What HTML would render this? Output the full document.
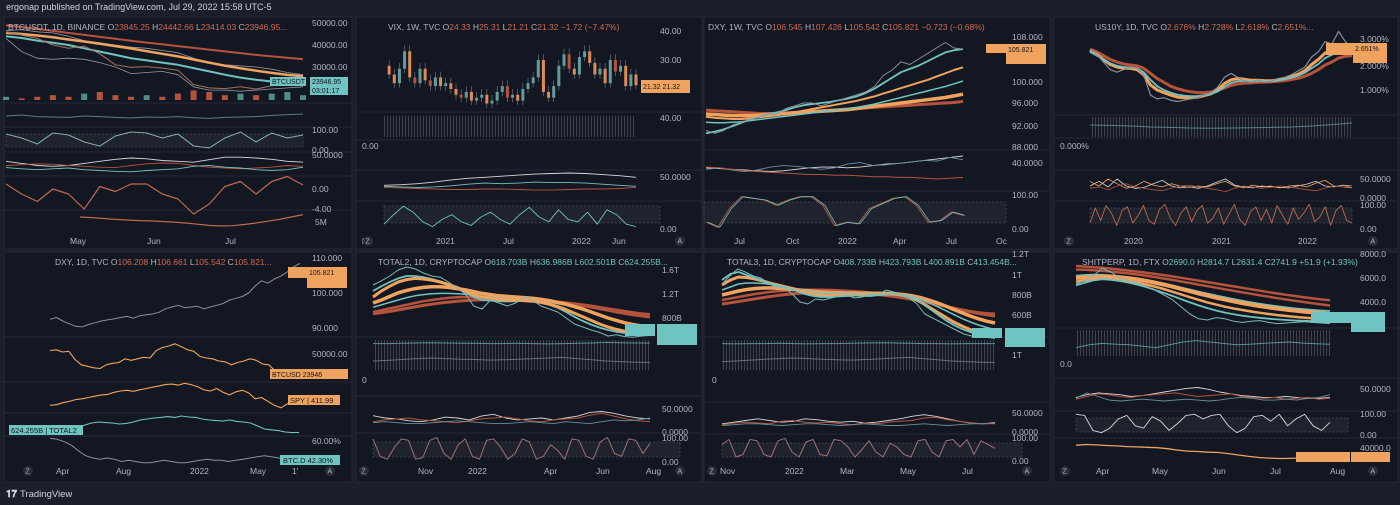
<!DOCTYPE html>
<html><head><meta charset="utf-8">
<style>
html,body{margin:0;padding:0;background:#1b1f2a;width:1400px;height:505px;overflow:hidden;font-family:"Liberation Sans",sans-serif}
svg{position:absolute;left:0;top:0}
text{font-family:"Liberation Sans",sans-serif;font-size:8.5px;fill:#b2b5be}
.t{font-size:8.5px;fill:#b2b5be}
.r{fill:#d0694f}.g{fill:#6fc3c0}
</style></head>
<body>
<svg id="s" width="1400" height="505">
<defs>
<pattern id="stripes" width="3" height="4" patternUnits="userSpaceOnUse"><rect width="1" height="4" fill="#4a4e59"/></pattern>
</defs>
<text x="6" y="10" style="font-size:9px;fill:#d1d4dc">ergonap published on TradingView.com, Jul 29, 2022 15:58 UTC-5</text>
<g>
<rect x="4" y="17" width="348" height="232" fill="#131722" stroke="#262a35"/>
<rect x="356" y="17" width="346" height="232" fill="#131722" stroke="#262a35"/>
<rect x="704" y="17" width="346" height="232" fill="#131722" stroke="#262a35"/>
<rect x="1054" y="17" width="344" height="232" fill="#131722" stroke="#262a35"/>
<rect x="4" y="252" width="348" height="230" fill="#131722" stroke="#262a35"/>
<rect x="356" y="252" width="346" height="230" fill="#131722" stroke="#262a35"/>
<rect x="704" y="252" width="346" height="230" fill="#131722" stroke="#262a35"/>
<rect x="1054" y="252" width="344" height="230" fill="#131722" stroke="#262a35"/>
</g>
<g id="seps" stroke="#262a35" stroke-width="1">
<line x1="4" x2="352" y1="103" y2="103"/><line x1="4" x2="352" y1="127" y2="127"/><line x1="4" x2="352" y1="152" y2="152"/><line x1="4" x2="352" y1="176" y2="176"/><line x1="4" x2="352" y1="210" y2="210"/>
<line x1="356" x2="702" y1="112" y2="112"/><line x1="356" x2="702" y1="140" y2="140"/><line x1="356" x2="702" y1="170" y2="170"/><line x1="356" x2="702" y1="201" y2="201"/>
<line x1="704" x2="1050" y1="150" y2="150"/><line x1="704" x2="1050" y1="191" y2="191"/>
<line x1="1054" x2="1398" y1="115" y2="115"/><line x1="1054" x2="1398" y1="138" y2="138"/><line x1="1054" x2="1398" y1="170" y2="170"/><line x1="1054" x2="1398" y1="201" y2="201"/>
<line x1="4" x2="352" y1="337" y2="337"/><line x1="4" x2="352" y1="382" y2="382"/><line x1="4" x2="352" y1="413" y2="413"/><line x1="4" x2="352" y1="436" y2="436"/>
<line x1="356" x2="702" y1="337" y2="337"/><line x1="356" x2="702" y1="396" y2="396"/><line x1="356" x2="702" y1="433" y2="433"/>
<line x1="704" x2="1050" y1="337" y2="337"/><line x1="704" x2="1050" y1="402" y2="402"/><line x1="704" x2="1050" y1="434" y2="434"/>
<line x1="1054" x2="1398" y1="328" y2="328"/><line x1="1054" x2="1398" y1="378" y2="378"/><line x1="1054" x2="1398" y1="411" y2="411"/><line x1="1054" x2="1398" y1="438" y2="438"/>
</g>
<g fill="#2a2e39" fill-opacity="0.55" stroke="#555a66" stroke-dasharray="2,2" stroke-width="0.6">
<rect x="6" y="134" width="297" height="13"/><rect x="384" y="206" width="276" height="17"/><rect x="704" y="202" width="302" height="21"/><rect x="1090" y="208" width="262" height="15"/>
<rect x="373" y="442" width="307" height="15"/><rect x="722" y="443" width="300" height="14"/><rect x="1076" y="418" width="272" height="14"/>
</g>
<g fill="url(#stripes)" opacity="0.8">
<rect x="384" y="116" width="252" height="21"/><rect x="1090" y="117" width="262" height="20"/><rect x="373" y="340" width="277" height="30"/><rect x="722" y="340" width="273" height="30"/><rect x="1076" y="330" width="254" height="26"/>
</g>
<g id="marks"></g>

<!-- titles -->
<text x="8" y="30">BTCUSDT, 1D, BINANCE  O<tspan class="r">23845.25</tspan> H<tspan class="r">24442.66</tspan> L<tspan class="r">23414.03</tspan> C<tspan class="r">23946.95...</tspan></text>
<text x="388" y="30">VIX, 1W, TVC  O<tspan class="r">24.33</tspan> H<tspan class="r">25.31</tspan> L<tspan class="r">21.21</tspan> C<tspan class="r">21.32</tspan> <tspan class="r">−1.72 (−7.47%)</tspan></text>
<text x="708" y="30">DXY, 1W, TVC  O<tspan class="r">106.545</tspan> H<tspan class="r">107.426</tspan> L<tspan class="r">105.542</tspan> C<tspan class="r">105.821</tspan> <tspan class="r">−0.723 (−0.68%)</tspan></text>
<text x="1095" y="30">US10Y, 1D, TVC  O<tspan class="r">2.676%</tspan> H<tspan class="r">2.728%</tspan> L<tspan class="r">2.618%</tspan> C<tspan class="r">2.651%...</tspan></text>
<text x="55" y="265">DXY, 1D, TVC  O<tspan class="r">106.208</tspan> H<tspan class="r">106.661</tspan> L<tspan class="r">105.542</tspan> C<tspan class="r">105.821...</tspan></text>
<text x="378" y="265">TOTAL2, 1D, CRYPTOCAP  O<tspan class="g">618.703B</tspan> H<tspan class="g">636.986B</tspan> L<tspan class="g">602.501B</tspan> C<tspan class="g">624.255B...</tspan></text>
<text x="727" y="265">TOTAL3, 1D, CRYPTOCAP  O<tspan class="g">408.733B</tspan> H<tspan class="g">423.793B</tspan> L<tspan class="g">400.891B</tspan> C<tspan class="g">413.454B...</tspan></text>
<text x="1082" y="265">SHITPERP, 1D, FTX  O<tspan class="g">2690.0</tspan> H<tspan class="g">2814.7</tspan> L<tspan class="g">2631.4</tspan> C<tspan class="g">2741.9</tspan> <tspan class="g">+51.9 (+1.93%)</tspan></text>

<g>
<text x="312" y="26">50000.00</text><text x="312" y="48">40000.00</text><text x="312" y="70">30000.00</text><text x="312" y="133">100.00</text><text x="312" y="153">0.00</text><text x="312" y="158">50.0000</text><text x="312" y="192">0.00</text><text x="312" y="212">-4.00</text><text x="315" y="225">5M</text>
<text x="660" y="34">40.00</text><text x="660" y="63">30.00</text><text x="660" y="121">40.00</text><text x="362" y="149">0.00</text><text x="660" y="180">50.0000</text><text x="660" y="232">0.00</text>
<text x="1012" y="40">108.000</text><text x="1012" y="85">100.000</text><text x="1012" y="106">96.000</text><text x="1012" y="129">92.000</text><text x="1012" y="150">88.000</text><text x="1012" y="166">40.0000</text><text x="1012" y="198">100.00</text><text x="1012" y="232">0.00</text>
<text x="1360" y="42">3.000%</text><text x="1360" y="69">2.000%</text><text x="1360" y="93">1.000%</text><text x="1060" y="149">0.000%</text><text x="1360" y="182">50.0000</text><text x="1360" y="201">0.0000</text><text x="1360" y="208">100.00</text><text x="1360" y="232">0.00</text>
<text x="312" y="261">110.000</text><text x="312" y="296">100.000</text><text x="312" y="331">90.000</text><text x="312" y="357">50000.00</text><text x="312" y="444">60.00%</text>
<text x="662" y="273">1.6T</text><text x="662" y="297">1.2T</text><text x="662" y="321">800B</text><text x="362" y="383">0</text><text x="662" y="412">50.0000</text><text x="662" y="435">0.0000</text><text x="662" y="441">100.00</text><text x="662" y="465">0.00</text>
<text x="1012" y="257">1.2T</text><text x="1012" y="278">1T</text><text x="1012" y="298">800B</text><text x="1012" y="318">600B</text><text x="1012" y="358">1T</text><text x="712" y="383">0</text><text x="1012" y="416">50.0000</text><text x="1012" y="435">0.0000</text><text x="1012" y="441">100.00</text><text x="1012" y="464">0.00</text>
<text x="1360" y="257">8000.0</text><text x="1360" y="281">6000.0</text><text x="1360" y="305">4000.0</text><text x="1060" y="367">0.0</text><text x="1360" y="392">50.0000</text><text x="1360" y="417">100.00</text><text x="1360" y="438">0.00</text><text x="1360" y="451">40000.0</text>
</g>
<g>
<text x="70" y="244">May</text><text x="147" y="244">Jun</text><text x="225" y="244">Jul</text>
<text x="362" y="244">l</text><text x="436" y="244">2021</text><text x="503" y="244">Jul</text><text x="572" y="244">2022</text><text x="612" y="244">Jun</text>
<text x="734" y="244">Jul</text><text x="786" y="244">Oct</text><text x="838" y="244">2022</text><text x="893" y="244">Apr</text><text x="946" y="244">Jul</text><text x="996" y="244">Oc</text>
<text x="1124" y="244">2020</text><text x="1212" y="244">2021</text><text x="1298" y="244">2022</text>
<text x="56" y="474">Apr</text><text x="116" y="474">Aug</text><text x="190" y="474">2022</text><text x="250" y="474">May</text><text x="292" y="474">1'</text>
<text x="362" y="474">p</text><text x="418" y="474">Nov</text><text x="468" y="474">2022</text><text x="544" y="474">Apr</text><text x="596" y="474">Jun</text><text x="646" y="474">Aug</text>
<text x="720" y="474">Nov</text><text x="785" y="474">2022</text><text x="840" y="474">Mar</text><text x="900" y="474">May</text><text x="962" y="474">Jul</text>
<text x="1096" y="474">Apr</text><text x="1152" y="474">May</text><text x="1212" y="474">Jun</text><text x="1270" y="474">Jul</text><text x="1330" y="474">Aug</text>
</g>
<g fill="#2a2e39">
<circle cx="368" cy="241" r="5"/><circle cx="680" cy="241" r="5"/><circle cx="1069" cy="241" r="5"/><circle cx="1373" cy="241" r="5"/><circle cx="28" cy="471" r="5"/><circle cx="330" cy="471" r="5"/><circle cx="364" cy="471" r="5"/><circle cx="680" cy="471" r="5"/><circle cx="712" cy="471" r="5"/><circle cx="1027" cy="471" r="5"/><circle cx="1065" cy="471" r="5"/><circle cx="1373" cy="471" r="5"/>
</g>
<g style="font-size:7px">
<text x="365.5" y="243.5" style="font-size:7px">Z</text><text x="677.5" y="243.5" style="font-size:7px">A</text><text x="1066.5" y="243.5" style="font-size:7px">Z</text><text x="1370.5" y="243.5" style="font-size:7px">A</text><text x="25.5" y="473.5" style="font-size:7px">Z</text><text x="327.5" y="473.5" style="font-size:7px">A</text><text x="361.5" y="473.5" style="font-size:7px">Z</text><text x="677.5" y="473.5" style="font-size:7px">A</text><text x="709.5" y="473.5" style="font-size:7px">Z</text><text x="1024.5" y="473.5" style="font-size:7px">A</text><text x="1062.5" y="473.5" style="font-size:7px">Z</text><text x="1370.5" y="473.5" style="font-size:7px">A</text>
</g>
<g id="boxes">
<rect x="270" y="77" width="36" height="9" fill="#6fc3c0"/><text x="272" y="84" style="fill:#131722;font-size:7px">BTCUSDT</text>
<rect x="310" y="77" width="38" height="18" fill="#6fc3c0"/><text x="312" y="84" style="fill:#131722;font-size:7px">23946.95</text><text x="312" y="93" style="fill:#131722;font-size:7px">03:01:17</text>
<rect x="641" y="80" width="49" height="13" fill="#f0a35e"/><text x="643" y="89" style="fill:#131722;font-size:7px">21.32 21.32</text>
<rect x="986" y="44" width="31" height="9" fill="#f0a35e"/><rect x="1006" y="44" width="40" height="20" fill="#f0a35e"/><text x="1008" y="52" style="fill:#131722;font-size:7px">105.821</text>
<rect x="1326" y="43" width="28" height="12" fill="#f0a35e"/><rect x="1353" y="43" width="34" height="20" fill="#f0a35e"/><text x="1355" y="51" style="fill:#131722;font-size:7px">2.651%</text>
<rect x="288" y="267" width="20" height="11" fill="#f0a35e"/><rect x="307" y="267" width="40" height="21" fill="#f0a35e"/><text x="309" y="275" style="fill:#131722;font-size:7px">105.821</text>
<rect x="270" y="369" width="78" height="10" fill="#f0a35e"/><text x="272" y="377" style="fill:#131722;font-size:7px">BTCUSD 23946</text>
<rect x="288" y="395" width="52" height="10" fill="#f0a35e"/><text x="290" y="403" style="fill:#131722;font-size:7.5px">SPY | 411.99</text>
<rect x="9" y="425" width="74" height="10" fill="#6fc3c0"/><text x="11" y="433" style="fill:#131722;font-size:7.5px">624.255B | TOTAL2</text>
<rect x="280" y="455" width="60" height="10" fill="#6fc3c0"/><text x="283" y="463" style="fill:#131722;font-size:7.5px">BTC.D  42.30%</text>
<rect x="625" y="324" width="30" height="12" fill="#6fc3c0"/><rect x="657" y="324" width="40" height="21" fill="#6fc3c0"/>
<rect x="972" y="328" width="30" height="10" fill="#6fc3c0"/><rect x="1005" y="328" width="40" height="19" fill="#6fc3c0"/>
<rect x="1311" y="312" width="40" height="11" fill="#6fc3c0"/><rect x="1351" y="312" width="34" height="20" fill="#6fc3c0"/>
<rect x="1296" y="452" width="54" height="10" fill="#f0a35e"/><rect x="1351" y="452" width="39" height="10" fill="#f0a35e"/>
</g>
<g>
<text x="6" y="497" style="font-size:10px;fill:#d1d4dc;font-weight:bold">𝟏𝟕</text>
<text x="20" y="497" style="font-size:9.5px;fill:#d1d4dc">TradingView</text>
</g>
</svg>
<script>
// ---- BTCUSDT 1D ----
const btcPrice=[46000,44500,43000,40000,38500,39500,36000,31000,29800,30200,29500,28500,22000,20500,20200,21000,20000,21500,23000,23900];
const btcMaOrange=[45500,45000,44300,43500,42500,41600,40600,39500,38400,37200,36000,34800,33400,32000,30600,29400,28300,27300,26400,25800];
const btcMaTeal=[44000,43200,42000,41000,40000,38500,37000,35500,34000,33000,32000,31000,29500,28000,26500,25200,24200,23400,22800,22500];
const btcMaRed=[49000,48200,47300,46400,45500,44600,43700,42800,41900,41100,40300,39500,38700,37900,37100,36300,35500,34800,34200,33600];
const btcBandUp=[46500,47000,46000,45500,44000,42000,41000,40000,39000,38500,37500,36500,34000,32000,31000,30500,30000,29000,27500,26500];
const btcBandLow=[43000,37000,34000,33500,34000,33500,32000,30000,27000,27500,28000,26500,21000,19500,19500,19000,19500,20000,20500,21000];
const btcVol=[2,1,2,3,2,4,5,3,2,3,2,4,6,5,3,4,3,4,5,3];
const btcRsi=[45,50,42,40,38,45,42,38,35,40,38,42,36,33,38,40,42,48,52,55];
const btcStoch=[80,60,30,85,75,40,20,70,90,85,60,80,20,10,60,90,40,85,60,75];
const btcDmiW=[40,35,30,28,30,35,40,45,48,46,42,40,38,44,50,50,48,45,40,38];
const btcDmiR=[30,32,34,33,30,28,26,25,30,34,36,35,30,26,24,22,24,26,30,28];
const btcDmiT=[25,22,20,22,24,20,18,16,15,18,20,22,28,30,26,24,20,18,20,26];
const btcMacd=[1,-1,-2.5,0,-1,-4,0.5,-0.5,1,1,-1,-2,-5,-3,0.5,1.5,-1,1.5,2.5,0.8];
const btcObv=[6,5.8,5.5,5.2,5.0,4.8,4.7,4.5,4.3,4.0,3.6,3.2,3.0,3.1,3.5,4.0,4.6,5.2,6.0,6.8];
// ---- VIX 1W ----
const vixClose=[28,25,22,27,33,24,22,27,23,21,24,21,22,20,18,17,19,16,17,18,15,16,19,21,17,18,16,20,22,24,30,19,17,21,28,32,27,25,31,33,29,25,27,22,30,26,28,21,25,21.3];
const vixLineW=[22,23,25,28,32,35,37,39,41,43,44,45,44,42,40,37];
const vixLineT=[20,19,18,19,21,24,26,25,26,28,27,27,26,24,22,20];
const vixLineR=[18,17,16,15,14,14,15,15,14,13,13,14,15,15,16,18];
const vixStoch=[20,60,95,70,30,10,40,60,30,15,50,70,40,20,60,90,50,30,80,40,30,70,20,80,60,20,10];
// ---- DXY 1W ----
const dxyWPrice=[91,90.5,91,92,92.5,93,93.5,94,94,95,95.5,96,96,95.5,96,96.5,97,97.5,98,99,101,102,103.5,103,104,105,106,107,106,105.8];
const dxyWTeal1=[90.5,90.8,91.2,91.8,92.4,93,93.5,94,94.3,94.7,95.2,95.6,95.8,96,96.2,96.5,96.8,97.2,97.8,98.6,99.6,100.6,101.6,102.2,102.8,103.6,104.4,105.2,105.6,105.8];
const dxyWOrange1=[93.5,93.3,93.2,93.1,93.1,93.2,93.4,93.6,93.8,94,94.3,94.6,94.9,95.2,95.5,95.8,96.1,96.4,96.8,97.2,97.7,98.2,98.7,99.2,99.7,100.2,100.8,101.4,102,102.5];
const dxyWTeal2=[92.5,92.4,92.4,92.5,92.6,92.8,93,93.2,93.4,93.6,93.8,94,94.2,94.4,94.6,94.8,95,95.2,95.5,95.8,96.2,96.6,97,97.4,97.8,98.2,98.6,99,99.5,100];
const dxyWOrange2=[94,93.9,93.8,93.7,93.7,93.7,93.8,93.9,94,94.1,94.2,94.3,94.4,94.5,94.6,94.7,94.8,95,95.2,95.4,95.6,95.8,96,96.2,96.4,96.6,96.8,97,97.3,97.6];
const dxyWRed=[94.7,94.6,94.5,94.4,94.3,94.2,94.1,94.1,94.1,94.2,94.3,94.4,94.5,94.6,94.7,94.8,94.9,95,95.1,95.2,95.3,95.4,95.5,95.6,95.7,95.8,95.9,96,96.1,96.3];
const dxyWLineW=[30,29,28,27,26,25,26,28,30,31,31,30,31,33,35,36,38,40,42,44,46];
const dxyWLineT=[28,30,27,25,27,31,33,32,30,28,30,35,37,33,34,36,38,40,39,44,41];
const dxyWLineR=[31,30,28,26,25,24,23,22,21,21,20,20,19,18,18,17,17,16,15,16,17];
const dxyWStoch=[20,5,60,95,90,85,70,85,95,95,70,10,20,15,60,75,90,95,70,20,25,50,40];
// ---- US10Y 1D ----
const us10yPrice=[2.6,2.4,2.1,1.8,1.7,1.8,1.9,1.85,1.6,0.8,0.65,0.7,0.6,0.55,0.6,0.65,0.7,0.8,0.9,1.1,1.5,1.65,1.5,1.35,1.3,1.4,1.3,1.35,1.45,1.5,1.6,1.75,1.9,2.3,2.5,2.9,2.8,3.3,2.9,2.65];
const us10yOrange=[2.55,2.4,2.2,2.0,1.9,1.85,1.85,1.8,1.6,1.2,1.0,0.9,0.8,0.72,0.7,0.7,0.72,0.78,0.85,1.0,1.25,1.4,1.45,1.42,1.38,1.38,1.36,1.36,1.4,1.45,1.52,1.62,1.76,2.0,2.2,2.45,2.55,2.7,2.7,2.62];
const us10yTeal=[2.5,2.35,2.2,2.05,1.95,1.9,1.88,1.85,1.7,1.4,1.15,1.0,0.9,0.82,0.78,0.76,0.76,0.79,0.84,0.94,1.12,1.28,1.35,1.36,1.35,1.35,1.34,1.35,1.38,1.42,1.48,1.56,1.68,1.86,2.02,2.25,2.38,2.52,2.55,2.52];
const us10yRed=[2.6,2.5,2.35,2.2,2.1,2.02,1.98,1.95,1.85,1.65,1.45,1.3,1.15,1.05,0.98,0.93,0.9,0.9,0.92,0.98,1.08,1.18,1.24,1.27,1.28,1.3,1.31,1.32,1.34,1.37,1.41,1.46,1.54,1.66,1.8,1.98,2.1,2.25,2.32,2.35];
const us10yVolLine=[60,58,55,50,48,45,44,45,46,48,50,55,62,70];
const us10yDmiW=[30,40,28,45,30,25,27,35,42,30,26,28,25,30,38,45,32,28,26,30,28,27,26,30,34,40,30,28,32,30];
const us10yDmiO=[40,30,45,35,25,30,40,32,28,35,30,27,30,28,35,40,30,26,32,28,30,26,30,32,28,36,42,30,28,26];
const us10yDmiR=[25,28,22,30,35,28,25,22,20,25,30,32,28,25,22,18,25,30,28,25,27,30,28,25,22,20,25,30,28,30];
const us10yOsc=[20,80,30,90,60,10,70,85,20,50,90,30,15,75,95,40,10,60,85,25,70,90,20,40,80,15,55,95,35,10,65,85,30,75,20,90,50,15,80,35,60,95,25,45,85,10,70,90,30,20];
// ---- DXY 1D overlay ----
const dxyDPrice=[92.5,93,92,91.2,90.5,90.3,91,91.5,92,92.3,92.6,93,93.3,92.8,93.5,93.8,94,94.5,95.5,96,96.5,95.8,96,96.2,95.5,96,96.5,97,98,98.5,99,100,102,103.5,102.8,104,104.8,106,107.5,108.5];
const btcDaily=[57000,58000,55000,56000,45000,38000,36000,34000,33000,38000,40000,41000,46000,44000,46000,48000,47000,57000,61000,63000,66000,62000,58000,56000,49000,47000,46000,43000,42000,38000,41000,43000,46000,44000,39000,38000,30000,29000,21000,22000,23500];
const spyDaily=[390,392,400,405,412,415,420,425,430,432,440,445,448,444,450,455,460,465,470,472,468,475,470,462,450,445,455,440,430,442,448,438,415,420,405,390,380,395,405,412];
const total2Daily=[880,900,1000,1100,1150,1120,1100,1050,1080,1150,1250,1300,1350,1380,1420,1380,1450,1400,1380,1300,1250,1220,1200,1250,1180,1150,1100,950,800,760,720,650,620,624];
const btcDomDaily=[61,60,58,55,50,46,44,43,44,43,41,42,41,40,40,41,42,41,40,40,41,42,43,42,42,41,42,43,44,45,46,45,44,43,42,42.3];
// ---- TOTAL2 ----
const t2Price=[1350,1420,1500,1600,1650,1620,1550,1500,1480,1400,1300,1200,1000,950,1100,1050,1000,1050,1150,1100,1000,950,900,800,700,650,600,560,500,520,490,480,500,510];
const t2Orange1=[1150,1250,1330,1400,1440,1460,1450,1430,1400,1360,1310,1250,1190,1150,1130,1110,1100,1095,1090,1080,1060,1030,990,940,880,820,760,700,650,610,580,560,550,545];
const t2Teal1=[1250,1330,1400,1460,1500,1500,1480,1450,1410,1360,1300,1230,1150,1100,1090,1080,1075,1080,1085,1080,1060,1020,970,900,820,750,690,640,600,570,550,540,535,530];
const t2Orange2=[1050,1100,1160,1220,1260,1290,1310,1320,1320,1310,1290,1270,1240,1210,1190,1170,1160,1150,1140,1130,1110,1090,1060,1030,990,950,900,850,800,760,720,690,670,660];
const t2Teal2=[980,1020,1060,1100,1140,1170,1190,1205,1210,1210,1205,1195,1180,1165,1150,1140,1130,1120,1110,1100,1085,1065,1040,1010,975,935,890,845,800,760,725,700,680,670];
const t2Red1=[900,930,960,990,1020,1050,1080,1100,1120,1135,1145,1150,1152,1150,1146,1140,1133,1125,1115,1105,1092,1078,1062,1044,1024,1002,978,952,925,898,872,850,830,815];
const t2Red2=[870,890,910,935,960,985,1010,1030,1050,1065,1080,1090,1098,1104,1108,1110,1110,1108,1104,1098,1090,1080,1068,1054,1038,1020,1000,978,955,932,910,890,872,858];
const t2VolTeal=[88,88,89,90,91,90,89,89,88,88,89,88,87,88,89,90,92,91,90,90];
const t2VolGray=[30,32,35,38,40,38,36,35,33,34,36,38,40,42,38,34,30,28,26,25];
const t2DmiW=[35,30,28,24,22,26,32,30,26,34,38,30,26,28,30,26,30,34,42,44,40,34,30,28];
const t2DmiR=[22,26,28,30,26,24,22,20,24,28,30,32,28,24,22,26,28,30,36,40,34,28,24,22];
const t2DmiT=[20,22,20,18,18,20,22,24,22,20,18,18,20,22,20,18,22,20,18,22,26,24,26,30];
const t2Osc=[90,30,20,60,90,85,20,25,85,95,40,20,70,90,30,20,85,90,60,20,40,90,80,20,30,70,50,20,90,85,30,20,80,95,40,30,90,85,40,75];
// ---- TOTAL3 ----
const t3Price=[900,980,1050,1020,980,960,900,870,860,800,720,700,750,740,760,780,790,760,770,800,790,840,820,790,760,700,600,560,520,480,440,400,380,370,390,400];
const t3Teal1=[940,1000,1020,990,960,930,900,880,860,830,800,780,770,770,775,780,785,780,780,790,800,800,790,760,720,660,600,540,490,450,420,390,370,360];
const t3Orange1=[890,940,970,965,950,930,905,885,865,845,820,800,790,785,785,788,790,790,792,796,800,798,785,760,720,670,620,570,520,480,445,415,395,385];
const t3Teal2=[840,870,900,910,910,905,895,880,865,850,835,820,810,805,802,802,803,803,804,806,806,802,792,774,748,714,676,636,596,556,520,490,465,445];
const t3Orange2=[790,810,830,845,855,860,860,856,850,843,835,827,820,815,812,810,809,808,808,808,806,802,794,782,764,740,712,680,646,612,580,552,528,510];
const t3Red1=[740,755,770,785,800,812,822,830,836,840,842,843,842,840,837,833,828,822,815,807,797,786,773,758,741,722,702,682,662,644,628,616,608,602];
const t3Red2=[700,712,725,738,752,765,777,788,797,805,811,815,817,818,817,815,811,806,800,792,783,772,760,746,731,714,696,677,658,640,622,606,592,580];
const t3VolTeal=[88,87,88,88,89,88,87,88,88,89,90,91,90,89,88,88,87,88,88,88];
const t3VolGray=[28,30,33,36,38,40,38,36,34,33,35,37,40,42,38,34,30,28,26,25];
const t3DmiW=[22,26,30,34,30,26,28,34,32,28,26,28,24,26,30,34,40,44,40,34,28,24,22,24];
const t3DmiR=[20,24,26,24,22,28,30,26,24,26,22,20,24,22,26,28,30,36,38,32,28,24,22,22];
const t3DmiT=[18,20,22,22,20,18,20,22,22,20,18,20,22,20,18,18,20,22,20,18,20,22,22,26];
const t3Osc=[70,90,20,30,90,85,30,20,85,95,40,20,80,90,30,25,90,85,60,20,50,85,40,20,75,60,30,20,85,90,40,20,85,90,60,90,30,85,70,55];
// ---- SHITPERP ----
const spPrice=[5500,5800,6200,6800,6500,6000,5800,5600,5300,5000,4600,4200,3600,3000,2600,2500,2700,2600,2400,2300,2400,2450,2300,2200,2250,2300,2350,2300,2250,2200];
const spRed1=[7000,6950,6900,6850,6780,6700,6620,6530,6440,6340,6240,6130,6020,5900,5780,5660,5540,5420,5300,5180,5060,4940,4820,4710,4600,4500,4400,4300,4220,4150];
const spRed2=[6700,6680,6640,6590,6530,6460,6380,6290,6190,6080,5960,5840,5710,5580,5450,5320,5190,5060,4930,4800,4680,4560,4440,4320,4210,4100,4000,3900,3800,3700];
const spTeal1=[6200,6250,6280,6270,6220,6150,6060,5950,5830,5690,5540,5380,5210,5040,4870,4700,4540,4390,4240,4100,3970,3850,3740,3640,3550,3470,3400,3340,3290,3250];
const spOrange1=[6000,6050,6100,6120,6100,6050,5980,5880,5760,5620,5460,5280,5090,4900,4710,4530,4360,4200,4050,3910,3780,3660,3550,3450,3360,3280,3200,3130,3060,3000];
const spOrange2=[5700,5800,5900,5950,5920,5850,5750,5620,5460,5280,5080,4860,4630,4400,4180,3970,3780,3610,3460,3330,3210,3100,3000,2910,2830,2760,2700,2650,2610,2580];
const spTeal2=[5400,5600,5800,5900,5850,5750,5620,5450,5250,5020,4770,4510,4240,3970,3720,3490,3290,3120,2980,2860,2760,2680,2610,2550,2500,2460,2430,2400,2380,2360];
const spVolLine=[30,40,45,42,40,35,30,40,50,55,50,45,40,42,45,48,50,46,44,42];
const spDmiW=[28,34,38,36,34,30,32,36,40,44,48,50,46,40,36,32,30,28,28,30,28,26,26,28];
const spDmiR=[24,30,36,34,30,28,32,34,36,38,34,30,32,34,36,30,28,26,28,24,26,28,24,26];
const spDmiT=[26,38,30,22,20,22,24,22,20,22,24,22,20,22,26,28,26,22,22,24,22,26,28,34];
const spOsc=[90,85,20,10,30,70,85,40,30,80,60,20,50,85,90,70,85,90,40,10,30,80,85,60,90,40,70,90,40,20,55];
const spObv=[42000,42500,42200,41800,41500,41000,40800,40500,40200,39500,38500,37800,37500,37000,36800,36000,35000,34000,33200,32800,32500,32600,32800,32700,32900,33000];

const OR='#f0a35e',TE='#6fc3c0',RE='#b5533c',GR='#9598a1',WH='#d8d8d8';
const NS='http://www.w3.org/2000/svg';
const marks=document.getElementById('marks');
function yMap(p,v){return p.ya+(v-p.va)/(p.vb-p.va)*(p.yb-p.ya);}
function xMap(x0,x1,i,n){return x0+i/(n-1)*(x1-x0);}
function line(name,x0,x1,p,arr,color,w){
  const pts=arr.map((v,i)=>xMap(x0,x1,i,arr.length).toFixed(1)+','+yMap(p,v).toFixed(1)).join(' ');
  const el=document.createElementNS(NS,'polyline');
  
  
  el.setAttribute('points',pts);
  el.setAttribute('fill','none');
  el.setAttribute('stroke',color);
  el.setAttribute('stroke-width',w||1);
  el.setAttribute('stroke-linejoin','round');
  marks.appendChild(el);
}
function bar(name,x,y,w,h,color){
  const r=document.createElementNS(NS,'rect');
  
  
  r.setAttribute('x',x);r.setAttribute('y',Math.min(y,y+h));r.setAttribute('width',w);r.setAttribute('height',Math.max(0.8,Math.abs(h)));
  r.setAttribute('fill',color);
  marks.appendChild(r);
}
// BTC panel
const P1={va:50000,ya:23,vb:30000,yb:67};
btcVol.forEach((v,i)=>{const x=xMap(6,303,i,btcVol.length);const c=i>0&&btcPrice[i]<btcPrice[i-1]?RE:'#4f8d8b';bar('btc-volume-bar',x-3,100,6,-v*1.6,c);});
line('btc-band-upper',6,303,P1,btcBandUp,GR,0.8);
line('btc-band-lower',6,303,P1,btcBandLow,GR,0.8);
line('btc-ma-red',6,303,P1,btcMaRed,RE,2);
line('btc-ma-orange',6,303,P1,btcMaOrange,OR,2.5);
line('btc-ma-teal',6,303,P1,btcMaTeal,TE,2);
line('btc-price',6,303,P1,btcPrice,'#a0735e',1);
line('btc-rsi',6,303,{va:100,ya:105,vb:0,yb:125},btcRsi,'#5a7d8a',1);
const P1s={va:100,ya:130,vb:0,yb:150};
line('btc-stoch-d',6,303,P1s,btcStoch,RE,1);line('btc-stoch-k',6,303,P1s,btcStoch.map(v=>v),TE,0.8);
const P1d={va:60,ya:153,vb:0,yb:178};
line('btc-dmi-adx',6,303,P1d,btcDmiW,WH,0.9);line('btc-dmi-minus',6,303,P1d,btcDmiR,RE,0.9);line('btc-dmi-plus',6,303,P1d,btcDmiT,TE,0.9);
line('btc-macd',6,303,{va:0,ya:189,vb:-4,yb:209},btcMacd,'#c0694f',1.2);
line('btc-obv',80,303,{va:10,ya:205,vb:0,yb:235},btcObv,'#c0694f',1.2);
// VIX candles
const PV={va:40,ya:31,vb:30,yb:60};
vixClose.forEach((c,i)=>{if(i===0)return;const o=vixClose[i-1];const x=xMap(384,636,i,vixClose.length);const col=c>=o?'#5f9ea0':(i%3?'#e08a5a':RE);
  bar('vix-wick',x-0.3,yMap(PV,Math.max(o,c)+2),0.6,yMap(PV,Math.min(o,c)-1.5)-yMap(PV,Math.max(o,c)+2),'#7a7e88');
  bar('vix-candle',x-1.5,yMap(PV,o),3,yMap(PV,c)-yMap(PV,o),col);});
const PVl={va:60,ya:165,vb:0,yb:197};
line('vix-line-white',384,636,PVl,vixLineW,WH,0.9);line('vix-line-teal',384,636,PVl,vixLineT,TE,0.9);line('vix-line-red',384,636,PVl,vixLineR,RE,0.9);
const PVs={va:100,ya:205,vb:0,yb:229};
line('vix-stoch',384,636,PVs,vixStoch,TE,0.9);
// DXY weekly
const P3={va:108,ya:37,vb:88,yb:147};
line('dxyw-ma-red',706,963,P3,dxyWRed,RE,3);
line('dxyw-ma-orange2',706,963,P3,dxyWOrange2,OR,3.5);
line('dxyw-ma-teal2',706,963,P3,dxyWTeal2,TE,1.5);
line('dxyw-ma-orange1',706,963,P3,dxyWOrange1,OR,2);
line('dxyw-ma-teal1',706,963,P3,dxyWTeal1,TE,1.8);
line('dxyw-price',706,963,P3,dxyWPrice,'#8a8f99',1);
const P3l={va:50,ya:153,vb:0,yb:190};
line('dxyw-line-white',706,963,P3l,dxyWLineW,WH,0.9);line('dxyw-line-teal',706,963,P3l,dxyWLineT,'#6b8f99',0.9);line('dxyw-line-red',706,963,P3l,dxyWLineR,RE,1);
const P3s={va:100,ya:195,vb:0,yb:229};
line('dxyw-stoch-d',706,963,P3s,dxyWStoch,RE,1);line('dxyw-stoch-k',708,965,P3s,dxyWStoch,TE,0.8);
// US10Y
const P4={va:3,ya:39,vb:1,yb:90};
line('us10y-ma-red',1090,1352,P4,us10yRed,RE,3);
line('us10y-ma-orange',1090,1352,P4,us10yOrange,OR,3);
line('us10y-ma-teal',1090,1352,P4,us10yTeal,TE,1.8);
line('us10y-price',1090,1352,P4,us10yPrice,'#8a8f99',1.2);
line('us10y-vol-line',1090,1352,{va:100,ya:117,vb:0,yb:137},us10yVolLine,'#5a7d8a',1);
const P4l={va:60,ya:172,vb:0,yb:200};
line('us10y-dmi-white',1090,1352,P4l,us10yDmiW,WH,0.8);line('us10y-dmi-orange',1090,1352,P4l,us10yDmiO,OR,0.8);line('us10y-dmi-red',1090,1352,P4l,us10yDmiR,RE,0.8);
line('us10y-osc',1090,1352,{va:100,ya:203,vb:0,yb:228},us10yOsc,'#c0694f',0.9);
// DXY daily overlay
line('dxyd-price',50,300,{va:110,ya:258,vb:90,yb:328},dxyDPrice,'#8a8f99',1);
line('btcd-price',50,300,{va:75000,ya:337,vb:15000,yb:382},btcDaily,OR,1.1);
line('spy-price',50,300,{va:480,ya:382,vb:360,yb:413},spyDaily,OR,1.1);
line('total2-price',71,299,{va:1600,ya:413,vb:500,yb:435},total2Daily,TE,1.1);
line('btc-dominance',50,300,{va:62,ya:437,vb:38,yb:465},btcDomDaily,'#8a8f99',1);
// TOTAL2
const P6={va:1600,ya:270,vb:800,yb:318};
line('t2-ma-red2',373,650,P6,t2Red2,RE,3);line('t2-ma-red1',373,650,P6,t2Red1,RE,2.5);
line('t2-ma-teal2',373,650,P6,t2Teal2,TE,1.5);line('t2-ma-orange2',373,650,P6,t2Orange2,OR,3.5);
line('t2-ma-teal1',373,650,P6,t2Teal1,TE,1.8);line('t2-ma-orange1',373,650,P6,t2Orange1,OR,3);
line('t2-price',373,650,P6,t2Price,'#7fb8b5',1);
const P6v={va:100,ya:340,vb:0,yb:370};
line('t2-vol-teal',373,650,P6v,t2VolTeal,'#5a8d99',1);line('t2-vol-gray',373,650,P6v,t2VolGray,'#6a6e78',1);
const P6l={va:60,ya:404,vb:0,yb:432};
line('t2-dmi-white',373,650,P6l,t2DmiW,WH,0.9);line('t2-dmi-red',373,650,P6l,t2DmiR,RE,1);line('t2-dmi-teal',373,650,P6l,t2DmiT,'#6b8f99',0.9);
line('t2-osc',373,650,{va:100,ya:436,vb:0,yb:465},t2Osc,'#a07070',1);
// TOTAL3
const P7={va:1200,ya:254,vb:600,yb:314};
line('t3-ma-red2',722,995,P7,t3Red2,RE,3);line('t3-ma-red1',722,995,P7,t3Red1,RE,2.5);
line('t3-ma-orange2',722,995,P7,t3Orange2,OR,3.5);line('t3-ma-teal2',722,995,P7,t3Teal2,TE,1.5);
line('t3-ma-orange1',722,995,P7,t3Orange1,OR,3);line('t3-ma-teal1',722,995,P7,t3Teal1,TE,1.8);
line('t3-price',722,995,P7,t3Price,'#7fb8b5',1);
const P7v={va:100,ya:340,vb:0,yb:370};
line('t3-vol-teal',722,995,P7v,t3VolTeal,'#5a8d99',1);line('t3-vol-gray',722,995,P7v,t3VolGray,'#6a6e78',1);
const P7l={va:60,ya:408,vb:0,yb:433};
line('t3-dmi-white',722,995,P7l,t3DmiW,WH,0.9);line('t3-dmi-red',722,995,P7l,t3DmiR,RE,1);line('t3-dmi-teal',722,995,P7l,t3DmiT,'#6b8f99',0.9);
line('t3-osc',722,995,{va:100,ya:437,vb:0,yb:462},t3Osc,'#a07070',1);
// SHITPERP
const P8={va:8000,ya:254,vb:4000,yb:302};
line('sp-ma-red1',1076,1330,P8,spRed1,RE,2.5);line('sp-ma-red2',1076,1330,P8,spRed2,RE,2.5);
line('sp-ma-teal1',1076,1330,P8,spTeal1,TE,1.8);line('sp-ma-orange1',1076,1330,P8,spOrange1,OR,4);
line('sp-ma-orange2',1076,1330,P8,spOrange2,OR,2.5);line('sp-ma-teal2',1076,1330,P8,spTeal2,TE,1.8);
line('sp-price',1076,1330,P8,spPrice,'#7fb8b5',1);
line('sp-vol-line',1076,1330,{va:100,ya:328,vb:0,yb:356},spVolLine,'#5a8d99',1);
const P8l={va:60,ya:383,vb:0,yb:410};
line('sp-dmi-white',1076,1330,P8l,spDmiW,WH,0.9);line('sp-dmi-red',1076,1330,P8l,spDmiR,RE,1);line('sp-dmi-teal',1076,1330,P8l,spDmiT,'#6b8f99',0.9);
line('sp-osc',1076,1330,{va:100,ya:412,vb:0,yb:435},spOsc,WH,0.9);
line('sp-obv',1076,1330,{va:45000,ya:441,vb:30000,yb:462},spObv,OR,1.3);
</script>
</body></html>
